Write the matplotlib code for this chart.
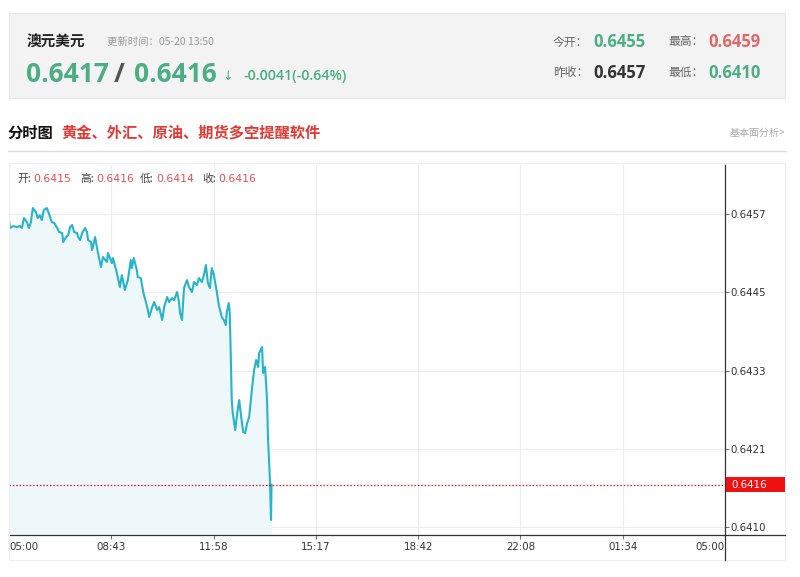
import matplotlib
matplotlib.use("Agg")
import matplotlib.pyplot as plt
from matplotlib.patches import Rectangle
from matplotlib.lines import Line2D

plt.rcParams['font.family'] = ['Noto Sans CJK SC', 'DejaVu Sans']

# minutes after 05:00 and price (AUD/USD)
minutes = [0, 2, 8, 16, 22, 26, 30, 36, 40, 44, 48, 54, 58, 62, 66, 70, 76, 80, 86, 91,
           97, 101, 107, 109, 115, 119, 123, 127, 131, 137, 139, 143, 147, 153, 157, 159,
           165, 167, 171, 173, 179, 185, 189, 197, 199, 207, 209, 217, 223, 227, 233, 239,
           245, 247, 251, 257, 259, 265, 270, 278, 282, 288, 292, 298, 302, 308, 312, 318,
           322, 328, 332, 338, 342, 344, 348, 352, 358, 362, 368, 372, 378, 382, 388, 392,
           396, 400, 404, 408, 412, 418, 422, 428, 432, 436, 438, 442, 444, 446, 447, 448,
           450, 455, 459, 463, 467, 471, 475, 479, 483, 489, 493, 497, 501, 503, 509, 511,
           515, 519, 521, 523, 525, 527, 528]
prices = [0.645614, 0.645493, 0.645523, 0.645508, 0.645523, 0.645493, 0.645645, 0.645584,
          0.645493, 0.645584, 0.645797, 0.645736, 0.645645, 0.645690, 0.645614, 0.645766,
          0.645797, 0.645721, 0.645584, 0.645569, 0.645493, 0.645432, 0.645417, 0.645281,
          0.645357, 0.645387, 0.645508, 0.645539, 0.645432, 0.645417, 0.645357, 0.645311,
          0.645417, 0.645493, 0.645432, 0.645311, 0.645281, 0.645159, 0.645281, 0.645357,
          0.645114, 0.644901, 0.645053, 0.644977, 0.645114, 0.644962, 0.645038, 0.644810,
          0.644598, 0.644780, 0.644552, 0.644704, 0.645007, 0.644886, 0.645038, 0.644856,
          0.644750, 0.644734, 0.644522, 0.644294, 0.644143, 0.644294, 0.644370, 0.644249,
          0.644294, 0.644097, 0.644294, 0.644446, 0.644370, 0.644431, 0.644400, 0.644522,
          0.644370, 0.644203, 0.644097, 0.644583, 0.644704, 0.644598, 0.644522, 0.644674,
          0.644628, 0.644734, 0.644674, 0.644780, 0.644932, 0.644658, 0.644583, 0.644886,
          0.644780, 0.644522, 0.644325, 0.644143, 0.644097, 0.644021, 0.644218, 0.644355,
          0.644203, 0.643566, 0.643232, 0.642883, 0.642686, 0.642428, 0.642686, 0.642883,
          0.642625, 0.642397, 0.642382, 0.642534, 0.642625, 0.643080, 0.643338, 0.643490,
          0.643384, 0.643596, 0.643687, 0.643293, 0.643384, 0.642883, 0.642276, 0.641972,
          0.641623, 0.641062, 0.641600]

last_price = 0.6416
x_labels = ["05:00", "08:43", "11:58", "15:17", "18:42", "22:08", "01:34", "05:00"]
y_ticks = [0.64096, 0.642145, 0.64333, 0.644515, 0.6457]
y_labels = ["0.6410", "0.6421", "0.6433", "0.6445", "0.6457"]

W, H = 800, 577
LINE = '#27b3c9'
GREEN = '#4bae84'
RED = '#e23b35'


def fx(px):
    return px / W


def fy(py):
    return 1 - py / H


fig = plt.figure(figsize=(8, 5.77), dpi=100)
fig.patch.set_facecolor('white')

# header box
fig.patches.append(Rectangle((fx(9), fy(98)), fx(776), 85 / H, transform=fig.transFigure,
                             facecolor='#f3f3f3', edgecolor='#e6e6e6', lw=0.8))
fig.text(fx(27), fy(42), "澳元美元", fontsize=10.5, fontweight='bold', color='#222222', va='center')
fig.text(fx(107), fy(42), "更新时间：05-20 13:50", fontsize=7.5, color='#999999', va='center')
fig.text(fx(26), fy(82), "0.6417", fontsize=19, fontweight='bold', color=GREEN, va='baseline',
         family='Open Sans')
fig.text(fx(114), fy(82), "/", fontsize=19, fontweight='bold', color='#555555', va='baseline',
         family='Open Sans')
fig.text(fx(134), fy(82), "0.6416", fontsize=19, fontweight='bold', color=GREEN, va='baseline',
         family='Open Sans')
fig.text(fx(222), fy(80), "↓", fontsize=9, color=GREEN, va='baseline', family='DejaVu Sans')
fig.text(fx(243), fy(80), "-0.0041(-0.64%)", fontsize=10.3, fontweight='semibold', color=GREEN,
         va='baseline', family='Open Sans')

fig.text(fx(553), fy(42), "今开：", fontsize=8.5, color='#666666', va='center')
fig.text(fx(593), fy(47), "0.6455", fontsize=12, fontweight='bold', color=GREEN, va='baseline',
         family='Open Sans')
fig.text(fx(668), fy(42), "最高：", fontsize=8.5, color='#666666', va='center')
fig.text(fx(708), fy(47), "0.6459", fontsize=12, fontweight='bold', color='#e06868', va='baseline',
         family='Open Sans')
fig.text(fx(553), fy(72), "昨收：", fontsize=8.5, color='#666666', va='center')
fig.text(fx(593), fy(78), "0.6457", fontsize=12, fontweight='bold', color='#333333', va='baseline',
         family='Open Sans')
fig.text(fx(668), fy(72), "最低：", fontsize=8.5, color='#666666', va='center')
fig.text(fx(708), fy(78), "0.6410", fontsize=12, fontweight='bold', color=GREEN, va='baseline',
         family='Open Sans')

# section title
fig.text(fx(8), fy(133), "分时图", fontsize=11, fontweight='bold', color='#111111', va='center')
fig.text(fx(61), fy(133), "黄金、外汇、原油、期货多空提醒软件", fontsize=11, fontweight='bold',
         color=RED, va='center')
fig.text(fx(785), fy(133), "基本面分析>", fontsize=7.2, color='#aaaaaa', va='center', ha='right')
fig.add_artist(Line2D([fx(8), fx(786)], [fy(151), fy(151)], color='#dddddd', lw=1))

# chart frame
fig.patches.append(Rectangle((fx(9), fy(560)), fx(776), 397 / H, transform=fig.transFigure,
                             facecolor='none', edgecolor='#eeeeee', lw=0.8))

ax = fig.add_axes([fx(9), fy(535), fx(716), 370 / H])
ax.set_facecolor('none')
ax.set_xlim(0, 1440)
ax.set_ylim(0.640834, 0.64645)

xt = [i * 1440 / 7 for i in range(8)]
ax.set_xticks(xt)
ax.set_xticklabels(x_labels)
ax.set_yticks(y_ticks)
ax.set_yticklabels(y_labels)
ax.grid(True, color='#ececec', lw=0.8)
ax.set_axisbelow(True)

ax.fill_between(minutes, prices, 0.640834, color='#eef8fb', lw=0)
ax.plot(minutes, prices, color=LINE, lw=1.5)
ax.axhline(last_price, color='#e8141a', lw=0.9, ls=(0, (1.2, 1.5)))

for s in ['top', 'left']:
    ax.spines[s].set_visible(False)
ax.spines['right'].set_color('#333333')
ax.spines['bottom'].set_color('#333333')
ax.spines['right'].set_linewidth(0.9)
ax.spines['bottom'].set_linewidth(0.9)
ax.yaxis.tick_right()
ax.tick_params(axis='y', length=3, width=0.6, color='#555555', labelsize=7.4,
               labelcolor='#333333', pad=1)
ax.tick_params(axis='x', length=3, width=0.6, color='#555555', labelsize=7.4,
               labelcolor='#333333', pad=2, direction='out')
for lab in ax.get_yticklabels():
    lab.set_family('DejaVu Sans')
xlabs = ax.get_xticklabels()
for lab in xlabs:
    lab.set_family('DejaVu Sans')
xlabs[0].set_ha('left')
xlabs[-1].set_ha('right')

# extended axis lines
fig.add_artist(Line2D([fx(725), fx(785)], [fy(535), fy(535)], color='#333333', lw=0.9))
fig.add_artist(Line2D([fx(725), fx(725)], [fy(535), fy(560)], color='#333333', lw=0.9))

# last price label box
ly = ax.transData.transform((0, last_price))[1] / fig.bbox.height
fig.patches.append(Rectangle((fx(726), ly - 7.5 / H), fx(59), 15 / H, transform=fig.transFigure,
                             facecolor='#ee1111', edgecolor='none'))
fig.text(fx(731), ly, "0.6416", fontsize=7.4, color='white', va='center', ha='left',
         family='DejaVu Sans')

# OHLC line
ohlc = [("开:", "0.6415", 17), ("高:", "0.6416", 80), ("低:", "0.6414", 140), ("收:", "0.6416", 202)]
for name, val, px in ohlc:
    fig.text(fx(px), fy(179), name, fontsize=7.8, color='#444444', va='center')
    fig.text(fx(px + 16), fy(179), val, fontsize=7.8, color='#e05050', va='center',
             family='DejaVu Sans')

fig.savefig("out.png", dpi=100)
